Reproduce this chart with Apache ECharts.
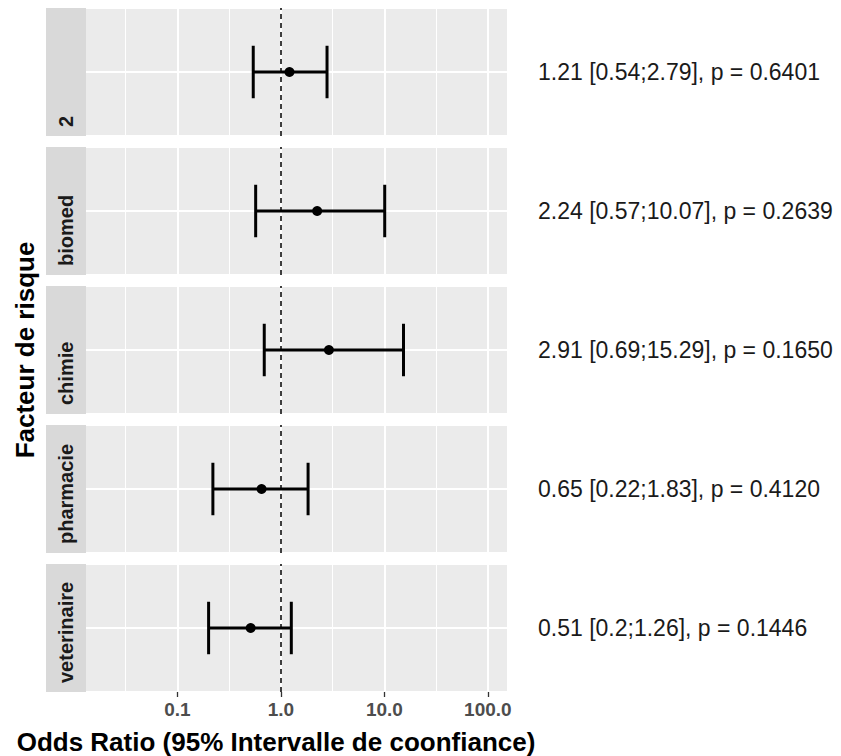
<!DOCTYPE html>
<html>
<head>
<meta charset="utf-8">
<script src="https://cdn.jsdelivr.net/npm/echarts@6/dist/echarts.min.js"></script>
<style>
  html, body { margin: 0; padding: 0; background: #fff; }
  #main { width: 841px; height: 756px; }
</style>
</head>
<body>
<div id="main"></div>
<script>
// facettes (de haut en bas)
const factors = ["2", "biomed", "chimie", "pharmacie", "veterinaire"];
const oddsRatio = [1.21, 2.24, 2.91, 0.65, 0.51];
const ciLower = [0.54, 0.57, 0.69, 0.22, 0.2];
const ciUpper = [2.79, 10.07, 15.29, 1.83, 1.26];
const pValues = [0.6401, 0.2639, 0.1650, 0.4120, 0.1446];
const tickValues = [0.1, 1, 10, 100];
const tickLabels = ["0.1", "1.0", "10.0", "100.0"];
const minorValues = [0.0316, 0.316, 3.16, 31.6];

// axe log : limites 0.02..100 + 5% d'expansion
const lo = Math.log10(0.02), hi = Math.log10(100);
const xMin = lo - (hi - lo) * 0.05;
const xMax = hi + (hi - lo) * 0.05;

const chart = echarts.init(document.getElementById("main"), null, { renderer: "svg" });

const FONT = "'Liberation Sans', Arial, sans-serif";
const panelTop = 8, panelH = 128, panelGap = 11;
const grids = [], xAxes = [], yAxes = [], series = [];

factors.forEach((f, i) => {
  grids.push({
    left: 86, right: 334,
    top: panelTop + i * (panelH + panelGap), height: panelH,
    show: true, backgroundColor: "#EBEBEB", borderWidth: 0
  });
  const last = i === factors.length - 1;
  xAxes.push({
    gridIndex: i, type: "value", min: xMin, max: xMax,
    axisLine: { show: false },
    splitLine: { show: false },
    axisTick: { show: last, customValues: tickValues.map(Math.log10), length: 5, lineStyle: { color: "#333", width: 1.3 } },
    axisLabel: {
      show: last, customValues: tickValues.map(Math.log10),
      formatter: (v) => tickLabels[tickValues.findIndex(t => Math.abs(Math.log10(t) - v) < 1e-6)],
      color: "#4D4D4D", fontSize: 19, fontWeight: "bold", fontFamily: FONT, margin: 8
    }
  });
  yAxes.push({
    gridIndex: i, type: "value", min: 0, max: 2, interval: 1,
    axisLine: { show: false }, axisTick: { show: false }, axisLabel: { show: false },
    splitLine: { show: true, lineStyle: { color: "#fff", width: 2 } }
  });

  // grille verticale
  series.push({
    type: "line", xAxisIndex: i, yAxisIndex: i, data: [], silent: true,
    markLine: {
      symbol: "none", silent: true, label: { show: false }, animation: false,
      data: [
        ...minorValues.map(v => ({ xAxis: Math.log10(v), lineStyle: { color: "#fff", width: 1, type: "solid" } })),
        ...tickValues.map(v => ({ xAxis: Math.log10(v), lineStyle: { color: "#fff", width: 2, type: "solid" } }))
      ]
    }
  });

  // ligne pointillée à OR = 1
  series.push({
    type: "line", xAxisIndex: i, yAxisIndex: i, data: [], silent: true, z: 5,
    markLine: {
      symbol: "none", silent: true, label: { show: false }, animation: false,
      data: [{ xAxis: 0, lineStyle: { color: "#000", width: 1.5, type: [5, 4] } }]
    }
  });

  // intervalle de confiance + point + texte
  series.push({
    type: "custom", xAxisIndex: i, yAxisIndex: i, z: 10,
    data: [[Math.log10(ciLower[i]), Math.log10(ciUpper[i]), Math.log10(oddsRatio[i]), 1]],
    renderItem: (params, api) => {
      const pl = api.coord([api.value(0), api.value(3)]);
      const pu = api.coord([api.value(1), api.value(3)]);
      const pm = api.coord([api.value(2), api.value(3)]);
      const cap = api.size([0, 0.82])[1];
      const st = { stroke: "#000", lineWidth: 3 };
      const label = oddsRatio[i] + " [" + ciLower[i] + ";" + ciUpper[i] + "], p = " + pValues[i].toFixed(4);
      return {
        type: "group",
        children: [
          { type: "line", shape: { x1: pl[0], y1: pl[1], x2: pu[0], y2: pu[1] }, style: st },
          { type: "line", shape: { x1: pl[0], y1: pl[1] - cap / 2, x2: pl[0], y2: pl[1] + cap / 2 }, style: st },
          { type: "line", shape: { x1: pu[0], y1: pu[1] - cap / 2, x2: pu[0], y2: pu[1] + cap / 2 }, style: st },
          { type: "circle", shape: { cx: pm[0], cy: pm[1], r: 5 }, style: { fill: "#000" } },
          { type: "text", x: 538, y: pm[1], style: { text: label, fill: "#1A1A1A", font: "23px " + FONT, textVerticalAlign: "middle", textAlign: "left" } }
        ]
      };
    }
  });
});

// bandeaux des facettes + titres des axes
const graphics = factors.map((f, i) => ({
  type: "group",
  children: [
    { type: "rect", shape: { x: 46, y: panelTop + i * (panelH + panelGap), width: 40, height: panelH }, style: { fill: "#D9D9D9" } },
    { type: "text", x: 66, y: panelTop + i * (panelH + panelGap) + panelH - 9, rotation: Math.PI / 2,
      style: { text: f, fill: "#1A1A1A", font: "bold 20px " + FONT, textAlign: "left", textVerticalAlign: "middle" } }
  ]
}));
graphics.push({
  type: "text", x: 25, y: 350, rotation: Math.PI / 2,
  style: { text: "Facteur de risque", fill: "#000", font: "bold 26px " + FONT, textAlign: "center", textVerticalAlign: "middle" }
});
graphics.push({
  type: "text", x: 276, y: 742,
  style: { text: "Odds Ratio (95% Intervalle de coonfiance)", fill: "#000", font: "bold 26px " + FONT, textAlign: "center", textVerticalAlign: "middle" }
});

chart.setOption({
  animation: false,
  grid: grids,
  xAxis: xAxes,
  yAxis: yAxes,
  series: series,
  graphic: graphics
});
</script>
</body>
</html>
